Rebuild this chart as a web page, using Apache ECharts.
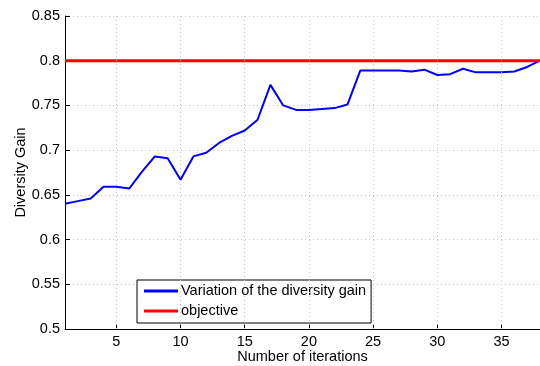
<!DOCTYPE html>
<html>
<head>
<meta charset="utf-8">
<script src="https://cdn.jsdelivr.net/npm/echarts@6/dist/echarts.min.js"></script>
<style>html,body{margin:0;padding:0;background:#fff}#c{width:540px;height:366px}</style>
</head>
<body>
<div id="c"></div>
<script>
const iterations = [1,2,3,4,5,6,7,8,9,10,11,12,13,14,15,16,17,18,19,20,21,22,23,24,25,26,27,28,29,30,31,32,33,34,35,36,37,38];
const diversityGain = [0.640,0.643,0.646,0.659,0.659,0.657,0.676,0.693,0.691,0.667,0.693,0.697,0.708,0.716,0.722,0.734,0.773,0.750,0.745,0.745,0.746,0.747,0.751,0.789,0.789,0.789,0.789,0.788,0.790,0.784,0.785,0.791,0.787,0.787,0.787,0.788,0.793,0.800];
const objectiveValue = 0.8;
const xTicks = [5,10,15,20,25,30,35];
const yTicks = [0.5,0.55,0.6,0.65,0.7,0.75,0.8,0.85];

const font = 'Liberation Sans, Arial, Helvetica, sans-serif';
const chart = echarts.init(document.getElementById('c'), null, {renderer:'canvas'});
const blueData = iterations.map((x,i)=>[x, diversityGain[i]]);
const redData = [[iterations[0], objectiveValue],[iterations[iterations.length-1], objectiveValue]];
const gridStyle = {color:'#c8c8c8', type:[1,3], width:1};

chart.setOption({
  animation:false,
  backgroundColor:'#fff',
  grid:{left:65, right:0, top:16, bottom:37, containLabel:false, outerBoundsMode:'none'},
  xAxis:{
    type:'value', min:1, max:38,
    name:'Number of iterations', nameLocation:'middle', nameGap:20, nameMoveOverlap:false,
    nameTextStyle:{color:'#000', fontSize:14.5, fontFamily:font},
    axisLine:{show:true, onZero:false, lineStyle:{color:'#000', width:1}},
    axisTick:{show:true, inside:true, length:5, customValues:xTicks, lineStyle:{color:'#000'}},
    axisLabel:{color:'#000', fontSize:14.5, fontFamily:font, margin:5, customValues:xTicks},
    splitLine:{show:false}
  },
  yAxis:{
    type:'value', min:0.5, max:0.85, interval:0.05,
    name:'Diversity Gain', nameLocation:'middle', nameGap:37, nameRotate:90, nameMoveOverlap:false,
    nameTextStyle:{color:'#000', fontSize:14.5, fontFamily:font},
    axisLine:{show:true, onZero:false, lineStyle:{color:'#000', width:1}},
    axisTick:{show:true, inside:true, length:5, lineStyle:{color:'#000'}},
    axisLabel:{color:'#000', fontSize:14.5, fontFamily:font, margin:5},
    splitLine:{show:true, lineStyle:gridStyle}
  },
  legend:{
    left:137, top:280, orient:'vertical',
    backgroundColor:'#fff', borderColor:'#000', borderWidth:1,
    padding:[3,5,4,7], itemGap:4,
    itemWidth:34, itemHeight:3, icon:'rect',
    textStyle:{color:'#000', fontSize:14.5, fontFamily:font, lineHeight:16, padding:[0,0,0,-2]},
    data:['Variation of the diversity gain','objective']
  },
  series:[
    {
      name:'Variation of the diversity gain', type:'line', data:blueData,
      showSymbol:false, symbol:'none', color:'#0000ff',
      lineStyle:{color:'#0000ff', width:2}, z:3,
      markLine:{
        silent:true, symbol:'none', label:{show:false},
        lineStyle:gridStyle,
        data: xTicks.map(v=>({xAxis:v}))
      }
    },
    {
      name:'objective', type:'line', data:redData,
      showSymbol:false, symbol:'none', color:'#ff0000',
      lineStyle:{color:'#ff0000', width:3}, z:4
    }
  ]
});
</script>
</body>
</html>
